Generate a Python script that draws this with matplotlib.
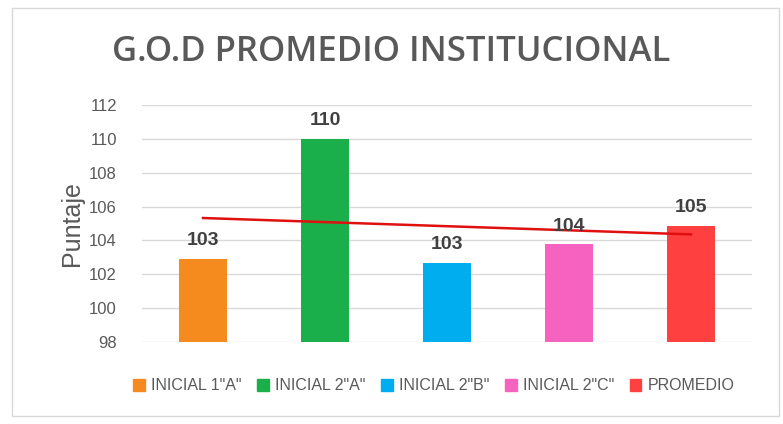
import matplotlib
matplotlib.use("Agg")
import matplotlib.pyplot as plt
from matplotlib.patches import Rectangle
import numpy as np

categories = ['INICIAL 1"A"', 'INICIAL 2"A"', 'INICIAL 2"B"', 'INICIAL 2"C"', 'PROMEDIO']
values = [102.93, 110.0, 102.67, 103.76, 104.84]
labels = ["103", "110", "103", "104", "105"]
colors = ["#F58A1F", "#1AAF4B", "#00ADEF", "#F562C0", "#FF4040"]
yticks = [98, 100, 102, 104, 106, 108, 110, 112]

fig = plt.figure(figsize=(7.83, 4.24), dpi=100)
fig.patches.append(Rectangle((12/783, 8/424), 767/783, 408/424, transform=fig.transFigure,
                             fill=False, edgecolor="#D9D9D9", linewidth=1))
ax = fig.add_axes([142/783, 1 - 342/424, 610/783, 237/424])
x = np.arange(len(categories))
ax.bar(x, values, width=0.4, color=colors, zorder=3)
ax.set_xlim(-0.5, len(categories) - 0.5)
ax.set_ylim(98, 112)
ax.set_yticks(yticks)
ax.set_yticklabels([str(t) for t in yticks], fontsize=12, color="#595959", family="Liberation Sans")
ax.set_xticks([])
ax.yaxis.grid(True, color="#D9D9D9", linewidth=1, zorder=0)
for s in ax.spines.values():
    s.set_visible(False)
ax.tick_params(axis="y", length=0, pad=18)
ax.set_ylabel("Puntaje", fontsize=18, color="#595959", family="Liberation Sans", labelpad=4)

for xi, v, lab in zip(x, values, labels):
    ax.annotate(lab, (xi, v), xytext=(0, 7), textcoords="offset points", ha="center", va="bottom",
                fontsize=14, fontweight="bold", color="#404040", family="Liberation Sans", zorder=5)

# linear trendline
coef = np.polyfit(x, values, 1)
ax.plot(x[[0, -1]], np.polyval(coef, x[[0, -1]]), color="#E01010", linewidth=1.8, zorder=4)

fig.text(0.5, 1 - 52/424, "G.O.D PROMEDIO INSTITUCIONAL", ha="center", va="center",
         fontsize=25, fontweight="semibold", color="#595959", family="Open Sans")

handles = [Rectangle((0, 0), 1, 1, color=c) for c in colors]
fig.legend(handles, categories, loc="center", bbox_to_anchor=(434/783, 1 - 386/424), ncol=5,
           frameon=False, handlelength=0.7, handleheight=0.7, handletextpad=0.4,
           columnspacing=1.0, prop={"family": "Liberation Sans", "size": 11.5},
           labelcolor="#595959")

fig.savefig("out.png", dpi=100)
